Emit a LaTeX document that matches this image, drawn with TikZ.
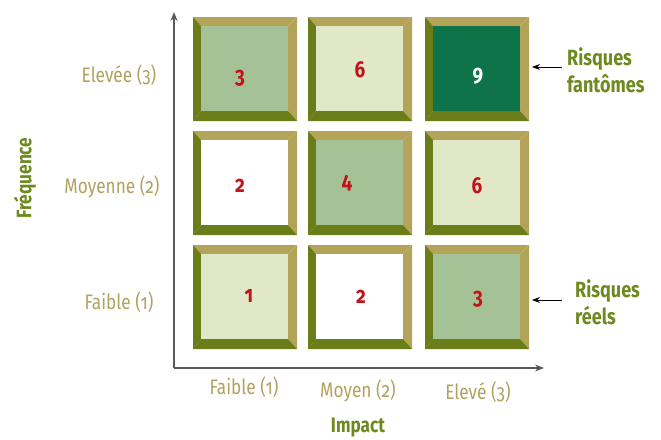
\documentclass[tikz,border=0pt]{standalone}
\usepackage{fontspec}
\setmainfont{Fira Sans}[FakeStretch=0.82,Numbers=OldStyle]
\usetikzlibrary{arrows.meta}

\definecolor{bevlight}{HTML}{B3A45A}
\definecolor{bevdark}{HTML}{6B7D18}
\definecolor{labelkhaki}{HTML}{B1A260}
\definecolor{titleolive}{HTML}{6E8A1F}
\definecolor{sage}{HTML}{A5C297}
\definecolor{pale}{HTML}{E0E8C7}
\definecolor{deepgreen}{HTML}{0F7349}
\definecolor{numred}{HTML}{C2121C}
\definecolor{axisgray}{HTML}{5A5A5A}

\tikzset{
  axis/.style={draw=axisgray, line width=1.4pt, -{Stealth[length=9pt,width=7pt]}},
  scalelabel/.style={text=labelkhaki, font=\fontsize{21}{23}\selectfont, inner sep=0pt},
  axistitle/.style={text=titleolive, font=\bfseries\fontsize{21}{23}\selectfont, inner sep=0pt},
  remark/.style={text=titleolive, font=\bfseries\fontsize{22}{27}\selectfont, inner sep=0pt, align=left, anchor=west},
  num/.style={font=\bfseries\fontsize{23}{25}\selectfont, text=numred, inner sep=0pt},
  pointer/.style={draw=black, line width=0.8pt, -{Stealth[length=8pt,width=6pt]}},
  cellface/.style={inner sep=0pt, minimum width=87pt, minimum height=85pt, anchor=north west}
}

% bevelled square: name, left, top, face colour (outer size 104)
\newcommand\riskcell[4]{%
  \fill[bevlight] (#2,#3) -- ({#2+104},#3) -- ({#2+95},{#3+9}) -- ({#2+8},{#3+9}) -- cycle;
  \fill[bevlight] ({#2+104},#3) -- ({#2+104},{#3+104}) -- ({#2+95},{#3+94}) -- ({#2+95},{#3+9}) -- cycle;
  \fill[bevdark] (#2,#3) -- ({#2+8},{#3+9}) -- ({#2+8},{#3+94}) -- (#2,{#3+104}) -- cycle;
  \fill[bevdark] (#2,{#3+104}) -- ({#2+8},{#3+94}) -- ({#2+95},{#3+94}) -- ({#2+104},{#3+104}) -- cycle;
  \node[cellface, fill=#4] (#1) at ({#2+8},{#3+9}) {};
}

\begin{document}
\begin{tikzpicture}[x=1pt, y=-1pt]
  \useasboundingbox[fill=white] (0,0) rectangle (661,439);

  % axes
  \coordinate (O) at (174,368);
  \coordinate (ytop) at (174,12);
  \coordinate (xend) at (544,368);
  \draw[axis] (O) -- (ytop);
  \draw[axis] (O) -- (xend);

  % grid of cells
  \riskcell{c11}{193}{17}{sage}
  \riskcell{c12}{308}{17}{pale}
  \riskcell{c13}{425}{17}{deepgreen}
  \riskcell{c21}{193}{131}{white}
  \riskcell{c22}{308}{131}{sage}
  \riskcell{c23}{425}{131}{pale}
  \riskcell{c31}{193}{245}{pale}
  \riskcell{c32}{308}{245}{white}
  \riskcell{c33}{425}{245}{sage}

  % scores
  \node[num] (n11) at (240,78) {3};
  \node[num] (n12) at (360,70) {6};
  \node[num, text=white] (n13) at (478,76) {9};
  \node[num] (n21) at (240,186) {2};
  \node[num] (n22) at (347,183) {4};
  \node[num] (n23) at (477,186) {6};
  \node[num] (n31) at (249,296) {1};
  \node[num] (n32) at (361,297) {2};
  \node[num] (n33) at (478,299) {3};

  % frequency scale
  \node[scalelabel] (f3) at (119,75) {Elevée (3)};
  \node[scalelabel] (f2) at (112,187) {Moyenne (2)};
  \node[scalelabel] (f1) at (119,302) {Faible (1)};

  % impact scale
  \node[scalelabel] (i1) at (244,387) {Faible (1)};
  \node[scalelabel] (i2) at (358,391) {Moyen (2)};
  \node[scalelabel] (i3) at (478,392) {Elevé (3)};

  % axis titles
  \node[axistitle, rotate=90] (freq) at (25,178) {Fréquence};
  \node[axistitle] (imp) at (358,428) {Impact};

  % remarks
  \node[remark] (fant) at (567,70) {Risques\\fantômes};
  \node[remark] (reel) at (575,302) {Risques\\réels};
  \coordinate (pf) at (562,67);
  \coordinate (tf) at (532,67);
  \coordinate (pr) at (562,300);
  \coordinate (tr) at (532,300);
  \draw[pointer] (pf) -- (tf);
  \draw[pointer] (pr) -- (tr);
\end{tikzpicture}
\end{document}
